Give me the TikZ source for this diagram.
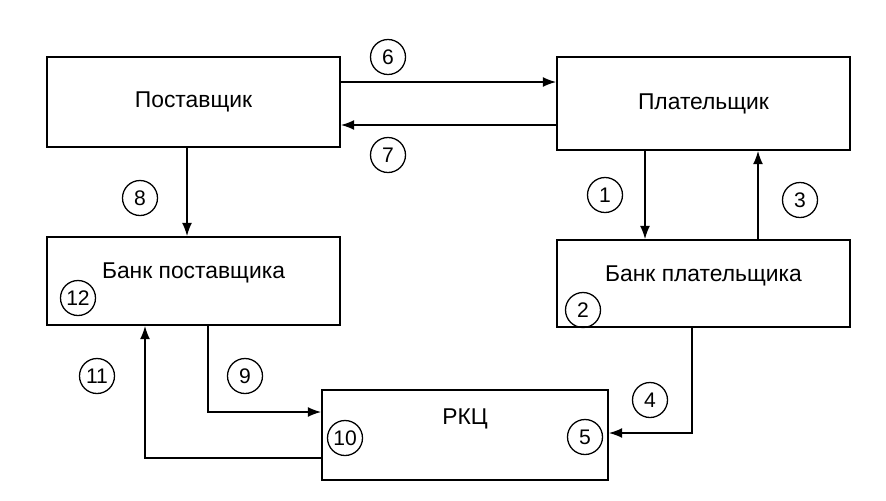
\documentclass[tikz,border=0pt]{standalone}
\usepackage{fontspec}
\setmainfont{Liberation Sans}
\usetikzlibrary{arrows.meta}

\begin{document}
\begin{tikzpicture}[
		x=0.03cm, y=-0.03cm,
		box/.style={rectangle, draw, line width=1.4pt, inner sep=0pt, font=\fontsize{19.5}{22}\selectfont},
		num/.style={circle, draw, line width=1.1pt, minimum size=1.05cm, inner sep=0pt, font=\fontsize{18}{20}\selectfont},
		arr/.style={line width=1.4pt, -{Latex[length=4mm, width=3mm]}}
	]
  \useasboundingbox (0,0) rectangle (886,501);
  \node (post) [box, minimum width=8.79cm, minimum height=2.7cm] at (193.5,102) {Поставщик};
  \node (plat) [box, minimum width=8.79cm, minimum height=2.79cm] at (703.5,103.5) {Плательщик};
  \node (bpost) [box, minimum width=8.79cm, minimum height=2.64cm, text depth=0.6cm] at (193.5,281) {Банк поставщика};
  \node (bplat) [box, minimum width=8.79cm, minimum height=2.61cm, text depth=0.6cm] at (703.5,283.5) {Банк плательщика};
  \node (rkc) [box, minimum width=8.58cm, minimum height=2.7cm, text depth=1.1cm] at (465,435) {РКЦ};

  \node (c1) [num] at (605,195) {1};
  \node (c2) [num] at (583,310) {2};
  \node (c3) [num] at (800,200) {3};
  \node (c4) [num] at (650,400) {4};
  \node (c5) [num] at (585,437) {5};
  \node (c6) [num] at (388,57) {6};
  \node (c7) [num] at (388,155) {7};
  \node (c8) [num] at (140,198) {8};
  \node (c9) [num] at (245,376) {9};
  \node (c10) [num] at (345,438) {10};
  \node (c11) [num] at (97,376) {11};
  \node (c12) [num] at (78,298) {12};

  \draw [arr] (post.east |- 0,82) -- (plat.west |- 0,82);
  \draw [arr] (plat.west |- 0,125) -- (post.east |- 0,125);
  \draw [arr] (post.south -| 187,0) -- (bpost.north -| 187,0);
  \draw [arr] (plat.south -| 645,0) -- (bplat.north -| 645,0);
  \draw [arr] (bplat.north -| 758,0) -- (plat.south -| 758,0);
  \draw [arr] (bplat.south -| 692,0) |- (rkc.east |- 0,433);
  \draw [arr] (bpost.south -| 208,0) |- (rkc.west |- 0,412);
  \draw [arr] (rkc.west |- 0,458) -| (bpost.south -| 145,0);
\end{tikzpicture}
\end{document}
